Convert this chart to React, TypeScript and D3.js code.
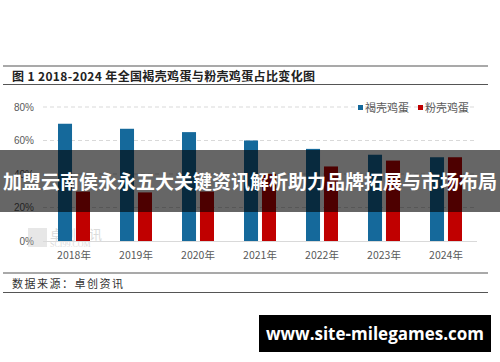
import React from "react";
import * as d3 from "d3";

const years = ["2018年", "2019年", "2020年", "2021年", "2022年", "2023年", "2024年"];
const seriesNames = ["褐壳鸡蛋", "粉壳鸡蛋"];
const brownShare = [70, 67, 65, 60, 55, 51.5, 50];
const pinkShare = [29.5, 29, 29.5, 40, 44.5, 48, 50];
const yTicks = [0, 20, 40, 60, 80];
const colors = ["#15699b", "#c00000"];

const W = 500;
const H = 362;

export default function App() {
  const x = d3.scaleBand().domain(years).range([43, 477]);
  const xInner = d3.scaleBand().domain(seriesNames).range([15, 47]).paddingInner(0.22);
  const y = d3.scaleLinear().domain([0, 80]).range([241, 107]);
  const values = [brownShare, pinkShare];
  const gray = "#595959";
  const cjk = "'Noto Sans CJK SC', 'Noto Sans', sans-serif";

  return (
    <svg
      width={W}
      height={H}
      style={{ position: "absolute", left: 0, top: 0, background: "#fff" }}
      fontFamily={cjk}
    >
      {/* title block */}
      <line x1={3} x2={488} y1={66} y2={66} stroke="#555" strokeWidth={1.2} />
      <text x={12} y={81} fontSize={12} fontWeight="bold" fill="#222" textLength={303}>
        图 1 2018-2024 年全国褐壳鸡蛋与粉壳鸡蛋占比变化图
      </text>
      <line x1={3} x2={488} y1={84.5} y2={84.5} stroke="#555" strokeWidth={1.2} />

      {/* grid + y axis */}
      {yTicks.map((t) => (
        <g key={t}>
          {t > 0 && (
            <line
              x1={43}
              x2={477}
              y1={y(t)}
              y2={y(t)}
              stroke="#d9d9d9"
              strokeDasharray="4,3"
            />
          )}
          <text
            x={34}
            y={y(t)}
            dy="0.35em"
            textAnchor="end"
            fontSize={10}
            fill={gray}
            fontFamily="'Liberation Sans', Arial, sans-serif"
          >
            {t}%
          </text>
        </g>
      ))}

      {/* watermark */}
      <g opacity={0.35}>
        <rect x={28} y={228} width={19} height={19} fill="#bbb" />
        <text x={50} y={239} fontSize={13} fill="#999">卓创资讯</text>
        <text x={50} y={247} fontSize={8} fill="#999" fontFamily="'Liberation Serif', serif">
          SCI99.COM
        </text>
      </g>

      {/* bars */}
      {years.map((yr, i) => (
        <g key={yr} transform={`translate(${x(yr)},0)`}>
          {seriesNames.map((s, j) => (
            <rect
              key={s}
              x={xInner(s)}
              y={y(values[j][i])}
              width={xInner.bandwidth()}
              height={y(0) - y(values[j][i])}
              fill={colors[j]}
            />
          ))}
          <text
            x={x.bandwidth() / 2}
            y={259}
            textAnchor="middle"
            fontSize={10.5}
            fill={gray}
          >
            {yr}
          </text>
        </g>
      ))}
      <line x1={43} x2={477} y1={241.5} y2={241.5} stroke="#d9d9d9" />

      {/* legend */}
      {seriesNames.map((s, j) => (
        <g key={s} transform={`translate(${358 + j * 60},108)`}>
          <rect x={0} y={-3} width={5} height={5} fill={colors[j]} />
          <text x={7} y={0} dy="0.35em" fontSize={11} fill={gray}>
            {s}
          </text>
        </g>
      ))}

      {/* source */}
      <line x1={3} x2={488} y1={273} y2={273} stroke="#555" strokeWidth={1.2} />
      <text x={12} y={288} fontSize={11} fill="#333" textLength={111}>
        数据来源：卓创资讯
      </text>
      <line x1={3} x2={488} y1={292.5} y2={292.5} stroke="#555" strokeWidth={1.2} />

      {/* overlay banner */}
      <rect x={0} y={150} width={W} height={62} fill="#000" opacity={0.6} />
      <text
        x={W / 2}
        y={182}
        dy="0.35em"
        textAnchor="middle"
        fontSize={19}
        fontWeight="bold"
        fill="#fff"
        textLength={494}
        lengthAdjust="spacingAndGlyphs"
      >
        加盟云南侯永永五大关键资讯解析助力品牌拓展与市场布局
      </text>

      {/* url box */}
      <rect x={259} y={315} width={232} height={37} fill="#000" />
      <text
        x={375}
        y={334}
        dy="0.35em"
        textAnchor="middle"
        fontSize={17}
        fontWeight="bold"
        fill="#fff"
        fontFamily="'Open Sans', 'DejaVu Sans', sans-serif"
      >
        www.site-milegames.com
      </text>
    </svg>
  );
}
